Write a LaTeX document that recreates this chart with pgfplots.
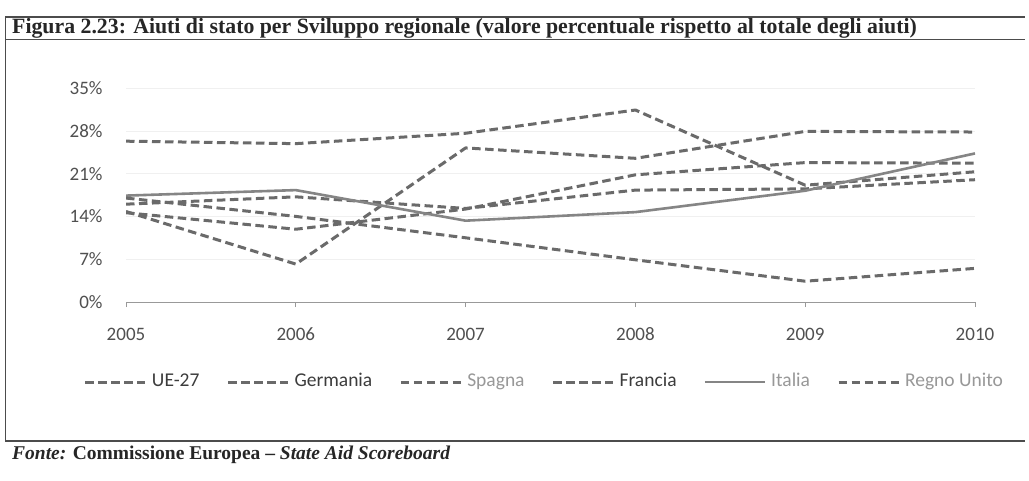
\documentclass[border=0pt]{standalone}
\usepackage{fontspec}
\setmainfont{Liberation Serif}
\newfontfamily\carlito{Carlito}
\usepackage{pgfplots}
\pgfplotsset{compat=1.18}
\definecolor{linegray}{HTML}{6A6A6A}
\definecolor{solidgray}{HTML}{858585}
\definecolor{txtdark}{HTML}{3C3C3C}
\definecolor{txtlight}{HTML}{989898}
\definecolor{ticktxt}{HTML}{505050}
\begin{document}
\begin{tikzpicture}[x=1pt,y=1pt]
\fill[white] (0,0) rectangle (1029,480);
\draw[line width=1.6pt, black!70] (5,463) -- (1025,463);
\draw[line width=1pt, black!70] (5,440) -- (1025,440);
\draw[line width=1pt, black!70] (5,463) -- (5,39);
\draw[line width=1.2pt, black!70] (5,39) -- (1025,39);
\node[anchor=west, inner sep=0pt, text=black!85, font=\bfseries\fontsize{21.8}{24}\selectfont] at (12,452) {Figura 2.23: Aiuti di stato per Sviluppo regionale (valore percentuale rispetto al totale degli aiuti)};
\node[anchor=west, inner sep=0pt, text=black!85, font=\fontsize{19.5}{22}\selectfont] at (12,25) {\textbf{\textit{Fonte:}} \textbf{Commissione Europea -- \textit{State Aid Scoreboard}}};
\begin{axis}[
  at={(126pt,178pt)}, anchor=south west,
  scale only axis, width=849pt, height=214pt,
  xmin=2005, xmax=2010, ymin=0, ymax=35,
  axis x line*=bottom, axis y line*=left,
  x axis line style={draw=gray!80, line width=0.8pt},
  y axis line style={draw=none},
  xtick={2005,2006,2007,2008,2009,2010},
  ytick={0,7,14,21,28,35},
  tick align=outside,
  xtick style={draw=gray!80, line width=0.8pt},
  major tick length=5pt,
  ytick style={draw=none},
  ymajorgrids, major grid style={draw=gray!12, line width=0.6pt},
  /pgf/number format/assume math mode=true,
  /pgf/number format/1000 sep={},
  xticklabel style={font=\carlito\fontsize{19}{22}\selectfont, text=ticktxt, anchor=north, text height=13pt, text depth=0pt, yshift=-17pt},
  yticklabel style={font=\carlito\fontsize{19}{22}\selectfont, text=ticktxt, xshift=-15pt},
  yticklabel={\pgfmathprintnumber{\tick}\%},
  legend columns=6,
  legend style={draw=none, fill=none, at={(0.4935,-0.374)}, anchor=center,
    font=\carlito\fontsize{19.5}{22}\selectfont,
    nodes={text height=13pt, text depth=4pt, inner xsep=3pt},
    /tikz/every odd column/.append style={column sep=2pt},
    /tikz/every even column/.append style={column sep=24pt}},
  legend image code/.code={\draw[#1] (0pt,0pt) -- (60pt,0pt);},
  every axis plot/.append style={line cap=butt, line join=round},
]
\pgfplotsset{dsh/.style={color=linegray, line width=3pt, dash pattern=on 8.5pt off 4.5pt}}
% UE-27
\addplot[dsh] coordinates {(2005,16.0) (2006,17.2) (2007,15.3) (2008,18.3) (2009,18.5) (2010,20.0)};
\addlegendentry{\textcolor{txtdark}{UE-27}}
% Germania
\addplot[dsh] coordinates {(2005,26.3) (2006,25.9) (2007,27.6) (2008,31.4) (2009,19.1) (2010,21.3)};
\addlegendentry{\textcolor{txtdark}{Germania}}
% Spagna
\addplot[dsh] coordinates {(2005,14.8) (2006,6.2) (2007,25.2) (2008,23.5) (2009,27.9) (2010,27.8)};
\addlegendentry{\textcolor{txtlight}{Spagna}}
% Francia
\addplot[dsh] coordinates {(2005,14.6) (2006,11.9) (2007,15.2) (2008,20.8) (2009,22.8) (2010,22.7)};
\addlegendentry{\textcolor{txtdark}{Francia}}
% Italia
\addplot[color=solidgray, line width=2.6pt] coordinates {(2005,17.4) (2006,18.3) (2007,13.3) (2008,14.7) (2009,18.2) (2010,24.3)};
\addlegendentry{\textcolor{txtlight}{Italia}}
% Regno Unito
\addplot[dsh] coordinates {(2005,17.0) (2006,14.0) (2007,10.5) (2008,6.9) (2009,3.4) (2010,5.5)};
\addlegendentry{\textcolor{txtlight}{Regno Unito}}
\end{axis}
\end{tikzpicture}
\end{document}
